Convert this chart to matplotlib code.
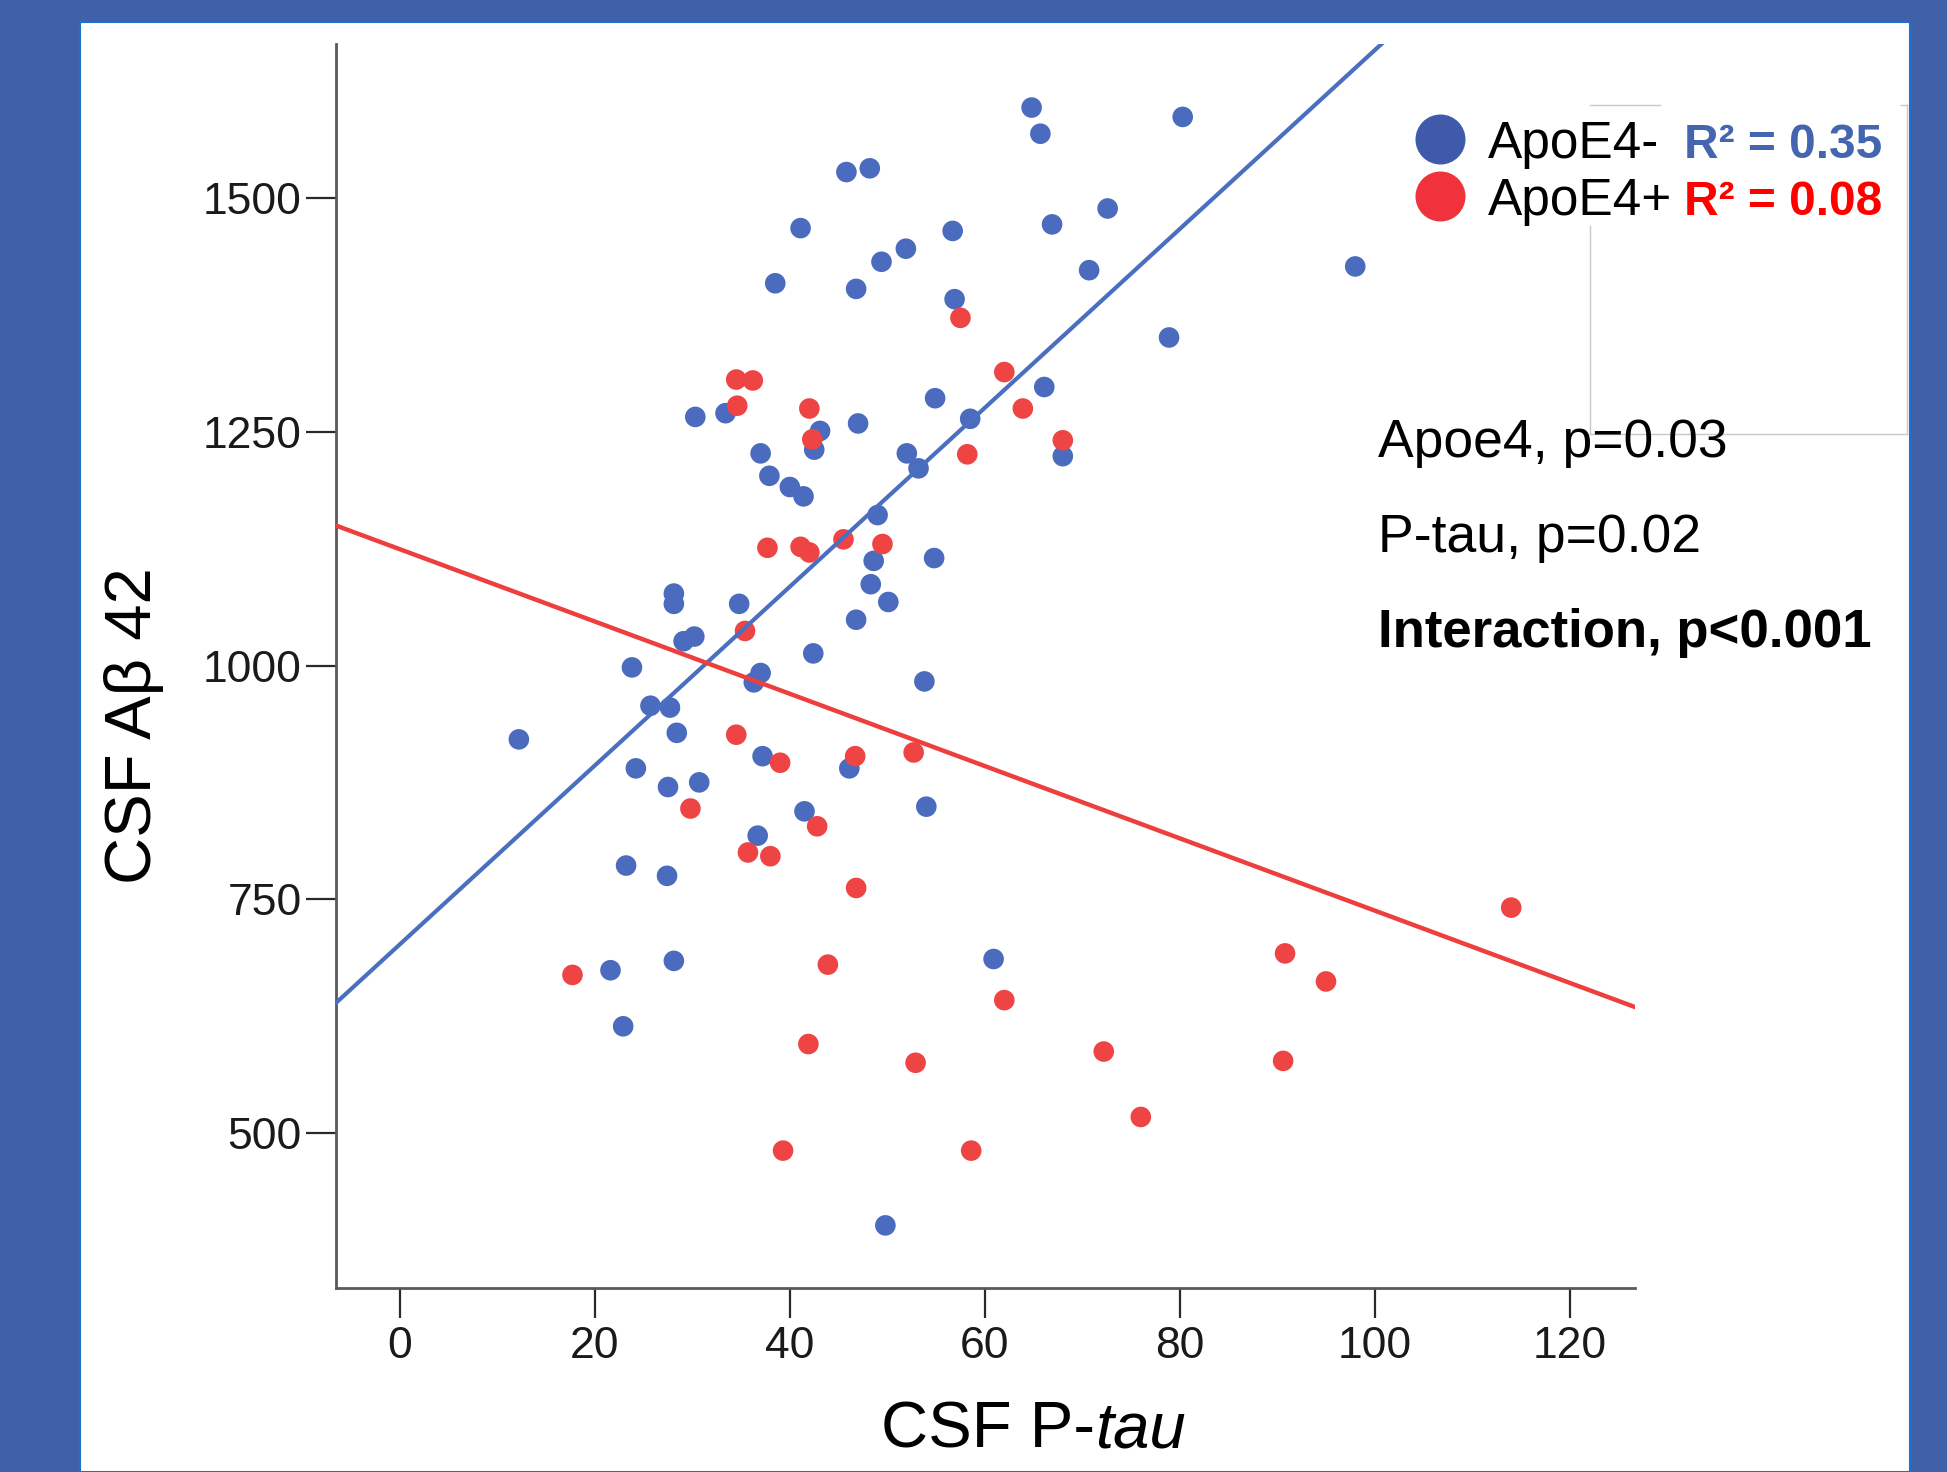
import matplotlib

matplotlib.use("Agg")
import matplotlib.pyplot as plt
from matplotlib.lines import Line2D
from matplotlib.patches import Rectangle
import numpy as np

W, H, DPI = 1947, 1472, 100

# ApoE4- (blue) points: CSF P-tau, CSF Abeta42
neg_x = [12.2, 21.6, 22.9, 23.2, 23.8, 24.2, 25.7, 27.4, 27.5, 27.7, 28.1, 28.1,
         28.1, 28.4, 29.1, 30.2, 30.3, 30.7, 33.4, 34.8, 36.3, 36.7, 37.0, 37.0,
         37.2, 37.9, 38.5, 40.0, 41.1, 41.4, 41.5, 42.5, 43.1, 42.4, 45.8, 46.8,
         47.0, 46.8, 46.1, 48.2, 48.3, 48.6, 49.0, 49.4, 50.1, 49.8, 51.9, 52.0,
         53.2, 53.8, 54.0, 54.8, 54.9, 56.7, 56.9, 58.5, 60.9, 64.8, 65.7, 66.1,
         66.9, 68.0, 70.7, 72.6, 78.9, 80.3, 98.0]
neg_y = [921, 674, 614, 786, 998, 890, 957, 775, 870, 955, 1077, 1066,
         684, 928, 1026, 1031, 1266, 875, 1270, 1066, 982, 818, 1227, 992,
         903, 1203, 1409, 1191, 1468, 1181, 844, 1231, 1251, 1013, 1528, 1403,
         1259, 1049, 890, 1532, 1087, 1112, 1161, 1432, 1068, 401, 1446, 1227,
         1211, 983, 849, 1115, 1286, 1465, 1392, 1264, 686, 1597, 1569, 1298,
         1472, 1224, 1423, 1489, 1351, 1587, 1427]

# ApoE4+ (red) points
pos_x = [17.7, 29.8, 34.5, 36.2, 34.6, 35.4, 34.5, 35.7, 38.0, 37.7, 39.0, 39.3,
         41.1, 42.0, 42.0, 42.3, 41.9, 42.8, 43.9, 45.5, 46.7, 46.8, 49.5, 52.7,
         52.9, 57.5, 58.2, 58.6, 62.0, 62.0, 63.9, 68.0, 72.2, 76.0, 90.8, 90.6,
         95.0, 114.0]
pos_y = [669, 847, 1306, 1305, 1278, 1037, 926, 800, 796, 1126, 896, 481,
         1127, 1121, 1275, 1242, 595, 828, 680, 1135, 903, 762, 1130, 907,
         575, 1372, 1226, 481, 1314, 642, 1275, 1241, 587, 517, 692, 577,
         662, 741]

# regression lines: (intercept, slope)
neg_fit = (701.8, 9.566)
pos_fit = (1124.4, -3.866)

x_ticks = [0, 20, 40, 60, 80, 100, 120]
y_ticks = [500, 750, 1000, 1250, 1500]
x_range = (-6.56, 126.7)
y_range = (334, 1665)

legend_labels = ["ApoE4-", "ApoE4+"]
legend_r2 = ["R\u00b2 = 0.35", "R\u00b2 = 0.08"]
stats_lines = ["Apoe4, p=0.03", "P-tau, p=0.02", "Interaction, p<0.001"]

BG_BLUE = "#4160aa"
DOT_BLUE = "#4a6bbe"
DOT_RED = "#ee4444"
LINE_BLUE = "#4a6fc0"
LINE_RED = "#ee3f3f"
FONT = ["Liberation Sans", "DejaVu Sans"]


def fx(px):
    return px / W


def fy(py):
    return 1 - py / H


plt.rcParams["font.family"] = FONT

fig = plt.figure(figsize=(W / DPI, H / DPI), dpi=DPI, facecolor=BG_BLUE)

# white slide panel
fig.patches.append(Rectangle((fx(80), 0), fx(1910) - fx(80), fy(22), transform=fig.transFigure,
                             facecolor="white", edgecolor="#1f6fcc", linewidth=1.5, zorder=-5))

ax = fig.add_axes([fx(336), fy(1288), fx(1635) - fx(336), fy(44) - fy(1288)])
ax.set_zorder(2)
ax.patch.set_alpha(0)

ax.scatter(neg_x, neg_y, s=220, color=DOT_BLUE, edgecolors="none", zorder=2)
ax.scatter(pos_x, pos_y, s=220, color=DOT_RED, edgecolors="none", zorder=2)

xs = np.array(x_range)
ax.plot(xs, neg_fit[0] + neg_fit[1] * xs, color=LINE_BLUE, linewidth=3.0, zorder=3)
ax.plot(xs, pos_fit[0] + pos_fit[1] * xs, color=LINE_RED, linewidth=3.2, zorder=3)

ax.set_xlim(*x_range)
ax.set_ylim(*y_range)
ax.set_xticks(x_ticks)
ax.set_yticks(y_ticks)
for side in ("top", "right"):
    ax.spines[side].set_visible(False)
for side in ("left", "bottom"):
    ax.spines[side].set_color("#5a5a5a")
    ax.spines[side].set_linewidth(2)
ax.tick_params(direction="out", length=21.5, width=1.6, color="#2a2a2a",
               labelsize=32, labelcolor="#1a1a1a")
ax.tick_params(axis="y", pad=3)
ax.tick_params(axis="x", pad=6)

# axis labels
fig.text(fx(134), fy(726), "CSF A\u03b2 42", rotation=90, ha="center", va="center",
         fontsize=47, color="black")
fig.text(fx(1095), fy(1448), "CSF P-", ha="right", va="baseline", fontsize=47, color="black")
fig.text(fx(1095), fy(1448), "tau", ha="left", va="baseline", fontsize=47,
         style="italic", color="black")

# faint legend frame left over from the source chart
frame = dict(color="#c8c8c8", linewidth=1.0, transform=fig.transFigure)
for (x0, y0), (x1, y1) in [((1590, 105), (1660, 105)), ((1901, 105), (1907, 105)),
                           ((1590, 226), (1590, 434)), ((1590, 434), (1907, 434)),
                           ((1907, 105), (1907, 434))]:
    fig.add_artist(Line2D([fx(x0), fx(x1)], [fy(y0), fy(y1)], **frame))

# legend
legend_colors = ["#3f5aab", "#f0323c"]
r2_colors = ["#4466b0", "#ff0000"]
for i, (lab, r2) in enumerate(zip(legend_labels, legend_r2)):
    cy = 139 + i * 57
    base = 158 + i * 57
    fig.add_artist(Line2D([fx(1440)], [fy(cy)], marker="o", markersize=35,
                          color=legend_colors[i], linestyle="none", transform=fig.transFigure))
    fig.text(fx(1488), fy(base), lab, ha="left", va="baseline", fontsize=37, color="black")
    fig.text(fx(1684), fy(base), r2, ha="left", va="baseline", fontsize=34.5,
             fontweight="bold", color=r2_colors[i])

# model statistics
for i, line in enumerate(stats_lines):
    fig.text(fx(1378), fy(457 + i * 95), line, ha="left", va="baseline",
             fontsize=38 if i == 2 else 38.5,
             fontweight="bold" if i == 2 else "normal", color="black")

fig.savefig("out.png", dpi=DPI, facecolor=BG_BLUE)
